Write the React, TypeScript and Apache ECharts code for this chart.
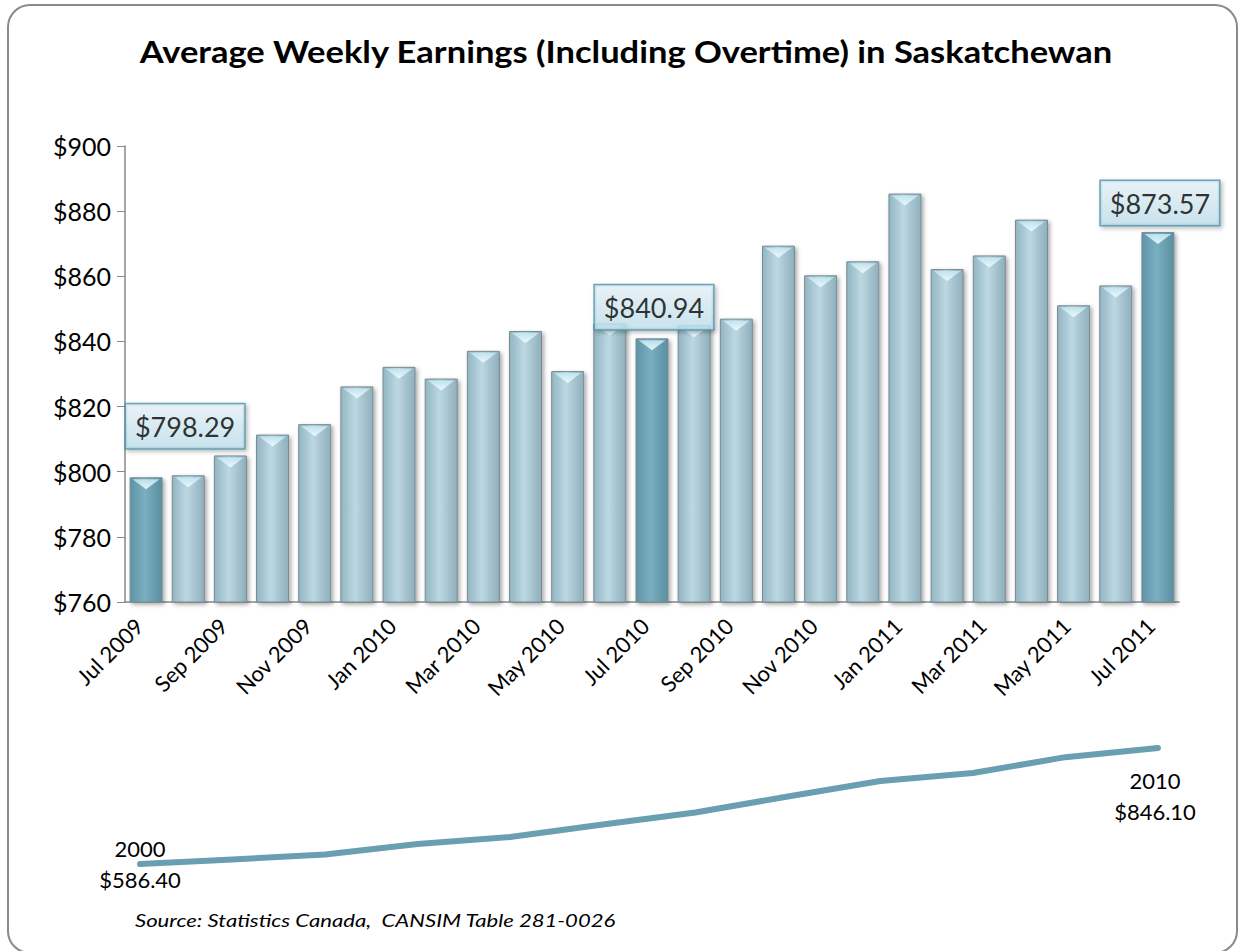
import React, { useEffect, useRef } from 'react';
import * as echarts from 'echarts';

const months = [
  'Jul 2009', 'Aug 2009', 'Sep 2009', 'Oct 2009', 'Nov 2009', 'Dec 2009',
  'Jan 2010', 'Feb 2010', 'Mar 2010', 'Apr 2010', 'May 2010', 'Jun 2010',
  'Jul 2010', 'Aug 2010', 'Sep 2010', 'Oct 2010', 'Nov 2010', 'Dec 2010',
  'Jan 2011', 'Feb 2011', 'Mar 2011', 'Apr 2011', 'May 2011', 'Jun 2011', 'Jul 2011',
];
const earnings = [
  798.29, 798.9, 805.0, 811.4, 814.6, 826.2, 832.2, 828.6, 837.1, 843.2, 830.9, 845.5,
  840.94, 845.0, 847.0, 869.4, 860.3, 864.6, 885.4, 862.2, 866.4, 877.4, 851.1, 857.2, 873.57,
];
const highlighted = [0, 12, 24];
const yMin = 760;
const yMax = 900;
const yStep = 20;

const trendPoints = ['p1', 'p2', 'p3', 'p4', 'p5', 'p6', 'p7', 'p8', 'p9', 'p10', 'p11', 'p12'];
const trendValues = [586.4, 596.5, 607.7, 631.2, 646.9, 674.8, 701.7, 737.5, 772.2, 790.1, 825.6, 846.1];
const trendStartLabel = ['2000', '$586.40'];
const trendEndLabel = ['2010', '$846.10'];

const titleText = 'Average Weekly Earnings (Including Overtime) in Saskatchewan';
const sourceText = 'Source: Statistics Canada,  CANSIM Table 281-0026';

const FONT = 'Lato, "Open Sans", sans-serif';

export default function App() {
  const ref = useRef<HTMLDivElement>(null);
  useEffect(() => {
    if (!ref.current) return;
    const chart = echarts.init(ref.current, undefined, { renderer: 'svg' });

    const lightFill = new echarts.graphic.LinearGradient(0, 0, 1, 0, [
      { offset: 0, color: '#93b5c3' },
      { offset: 0.45, color: '#bcd8e2' },
      { offset: 1, color: '#8eafbc' },
    ]);
    const darkFill = new echarts.graphic.LinearGradient(0, 0, 1, 0, [
      { offset: 0, color: '#5f93a6' },
      { offset: 0.45, color: '#7aafc2' },
      { offset: 1, color: '#5a8ea1' },
    ]);
    const boxFill = new echarts.graphic.LinearGradient(0, 0, 0, 1, [
      { offset: 0, color: '#eaf6fb' },
      { offset: 1, color: '#c3e3f0' },
    ]);

    const labelOffsets: Record<number, { dist: number; dx: number }> = {
      0: { dist: 29, dx: 39 },
      12: { dist: 9, dx: 2 },
      24: { dist: 7, dx: 2 },
    };

    const endLabelStyle = {
      fontFamily: FONT,
      fontSize: 22,
      lineHeight: 31,
      color: '#000',
    };

    const option: any = {
      animation: false,
      backgroundColor: '#ffffff',
      graphic: [
        {
          type: 'rect',
          shape: { x: 8, y: 5, width: 1229, height: 948, r: 22 },
          style: { fill: 'none', stroke: '#8a8a8a', lineWidth: 2 },
          silent: true,
        },
        {
          type: 'text',
          x: 626,
          y: 51,
          scaleX: 1.15,
          style: {
            text: titleText,
            font: `bold 30px ${FONT}`,
            fill: '#000',
            textAlign: 'center',
            textVerticalAlign: 'middle',
          },
        },
        {
          type: 'text',
          x: 135,
          y: 921,
          scaleX: 1.3,
          style: {
            text: sourceText,
            font: `italic 17px ${FONT}`,
            fill: '#000',
            textAlign: 'left',
            textVerticalAlign: 'middle',
          },
        },
      ],
      grid: [
        { left: 125, right: 60, top: 146, height: 456 },
        { left: 140, width: 1018, top: 748, height: 116 },
      ],
      xAxis: [
        {
          type: 'category',
          data: months,
          gridIndex: 0,
          axisLine: { lineStyle: { color: '#888888', width: 1.5 } },
          axisTick: { interval: 1, length: 8, lineStyle: { color: '#888888' } },
          axisLabel: {
            interval: 1,
            rotate: 45,
            margin: 13,
            padding: [0, 10, 0, 0],
            fontFamily: FONT,
            fontSize: 22,
            color: '#000',
          },
        },
        {
          type: 'category',
          data: trendPoints,
          gridIndex: 1,
          boundaryGap: false,
          show: false,
        },
      ],
      yAxis: [
        {
          type: 'value',
          gridIndex: 0,
          min: yMin,
          max: yMax,
          interval: yStep,
          axisLine: { show: true, lineStyle: { color: '#888888', width: 1.5 } },
          axisTick: { show: true, length: 8, lineStyle: { color: '#888888' } },
          splitLine: { show: false },
          axisLabel: {
            margin: 14,
            fontFamily: FONT,
            fontSize: 25,
            color: '#000',
            formatter: (v: number) => '$' + v,
          },
        },
        {
          type: 'value',
          gridIndex: 1,
          min: trendValues[0],
          max: trendValues[trendValues.length - 1],
          show: false,
        },
      ],
      series: [
        {
          type: 'bar',
          xAxisIndex: 0,
          yAxisIndex: 0,
          z: 2,
          barWidth: 33,
          barGap: '-100%',
          data: earnings.map((v, i) => ({
            value: v,
            itemStyle: {
              color: highlighted.includes(i) ? darkFill : lightFill,
              borderColor: '#7a8a90',
              borderWidth: 1,
              shadowColor: 'rgba(0,0,0,0.35)',
              shadowBlur: 4,
              shadowOffsetX: 2,
              shadowOffsetY: 2,
            },
          })),
        },
        {
          type: 'pictorialBar',
          xAxisIndex: 0,
          yAxisIndex: 0,
          z: 3,
          barWidth: 33,
          barGap: '-100%',
          symbol: 'triangle',
          symbolRotate: 180,
          symbolSize: [27, 10],
          symbolPosition: 'end',
          symbolOffset: [0, 2],
          silent: true,
          itemStyle: {
            color: new echarts.graphic.LinearGradient(0, 0, 0, 1, [
              { offset: 0, color: '#f4fbfd' },
              { offset: 1, color: '#bfe6f2' },
            ]),
            opacity: 0.9,
          },
          data: earnings,
        },
        {
          type: 'scatter',
          xAxisIndex: 0,
          yAxisIndex: 0,
          z: 10,
          symbolSize: 0,
          silent: true,
          data: earnings.map((v, i) =>
            highlighted.includes(i)
              ? {
                  value: v,
                  label: {
                    show: true,
                    position: 'top',
                    distance: labelOffsets[i].dist,
                    offset: [labelOffsets[i].dx, 0],
                    formatter: '$' + v.toFixed(2),
                    fontFamily: FONT,
                    fontSize: 27,
                    lineHeight: 30,
                    color: '#000',
                    backgroundColor: boxFill,
                    borderColor: '#4b8ea6',
                    borderWidth: 1.5,
                    padding: [7, 9, 7, 9],
                    shadowColor: 'rgba(0,0,0,0.3)',
                    shadowBlur: 4,
                    shadowOffsetX: 2,
                    shadowOffsetY: 2,
                  },
                }
              : '-'
          ),
        },
        {
          type: 'line',
          xAxisIndex: 1,
          yAxisIndex: 1,
          symbol: 'circle',
          symbolSize: 0,
          showSymbol: true,
          silent: true,
          lineStyle: { color: '#6a9fb2', width: 6, cap: 'round', join: 'round' },
          data: trendValues.map((v, i) => {
            if (i === 0) {
              return {
                value: v,
                label: {
                  show: true,
                  position: 'inside',
                  formatter: trendStartLabel.join('\n'),
                  ...endLabelStyle,
                },
              };
            }
            if (i === trendValues.length - 1) {
              return {
                value: v,
                label: {
                  show: true,
                  position: 'bottom',
                  distance: 17,
                  offset: [-3, 0],
                  formatter: trendEndLabel.join('\n'),
                  ...endLabelStyle,
                },
              };
            }
            return v;
          }),
        },
      ],
    };
    chart.setOption(option);
    return () => chart.dispose();
  }, []);
  return (
    <div
      ref={ref}
      style={{ position: 'fixed', left: 0, top: 0, width: 1239, height: 951 }}
    />
  );
}
